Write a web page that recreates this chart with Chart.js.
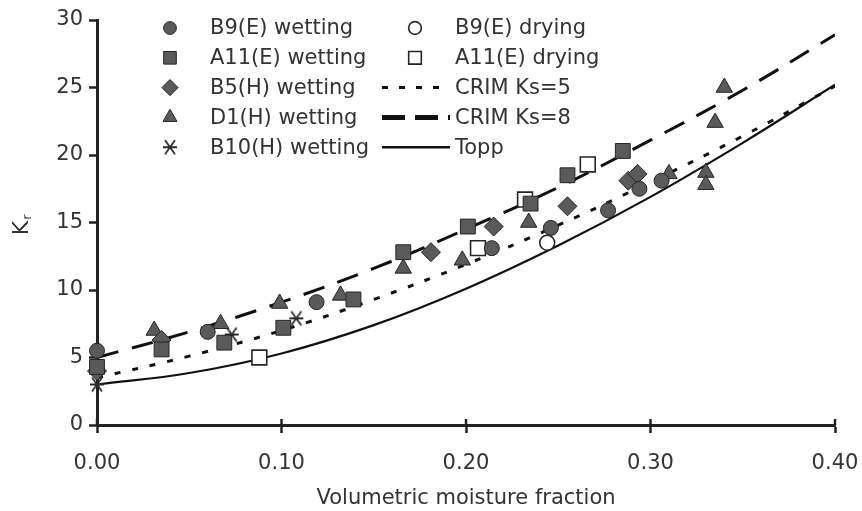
<!DOCTYPE html>
<html>
<head>
<meta charset="utf-8">
<script src="https://cdn.jsdelivr.net/npm/chart.js@4.4.1/dist/chart.umd.min.js"></script>
<style>
  html, body { margin: 0; padding: 0; background: #fff; }
  #chart { display: block; }
</style>
</head>
<body>
<canvas id="chart" width="862" height="511"></canvas>
<script>
const b9WetX = [0, 0.060, 0.119, 0.214, 0.246, 0.277, 0.294, 0.306];
const b9WetY = [5.5, 6.9, 9.1, 13.1, 14.6, 15.9, 17.5, 18.1];

const a11WetX = [0, 0.035, 0.069, 0.101, 0.139, 0.166, 0.201, 0.235, 0.255, 0.285];
const a11WetY = [4.3, 5.6, 6.1, 7.2, 9.3, 12.8, 14.7, 16.4, 18.5, 20.3];

const b5WetX = [0, 0.035, 0.181, 0.215, 0.255, 0.288, 0.293];
const b5WetY = [4.0, 6.3, 12.8, 14.7, 16.2, 18.1, 18.6];

const d1WetX = [0.031, 0.067, 0.099, 0.132, 0.166, 0.198, 0.234, 0.310, 0.330, 0.330, 0.335, 0.340];
const d1WetY = [7.0, 7.5, 9.0, 9.6, 11.6, 12.2, 15.0, 18.6, 18.7, 17.8, 22.4, 25.0];

const b10WetX = [0, 0.073, 0.108];
const b10WetY = [3.0, 6.7, 7.9];

const b9DryX = [0.244];
const b9DryY = [13.5];

const a11DryX = [0.088, 0.2065, 0.232, 0.266];
const a11DryY = [5.0, 13.1, 16.7, 19.3];

// model curves, read at 0.05 steps
const curveX = [0, 0.05, 0.10, 0.15, 0.20, 0.25, 0.30, 0.35, 0.40];
const crim5Y = [3.5, 5.1, 7.0, 9.3, 11.9, 14.8, 18.0, 21.4, 25.1];
const crim8Y = [5.0, 6.9, 9.1, 11.6, 14.5, 17.6, 21.1, 24.8, 28.9];
const toppY = [3.0, 3.85, 5.3, 7.4, 10.1, 13.3, 16.9, 20.9, 25.2];

const xTicks = [0, 0.1, 0.2, 0.3, 0.4];
const yTicks = [0, 5, 10, 15, 20, 25, 30];

const FONT = 'DejaVu Sans';
const GREY = '#5a5a5a';
const EDGE = '#262626';

const pts = (xs, ys) => xs.map((x, i) => ({ x, y: ys[i] }));

// six-armed asterisk used for B10
const asterisk = (() => {
  const c = document.createElement('canvas');
  c.width = 18;
  c.height = 18;
  const g = c.getContext('2d');
  g.strokeStyle = '#2a2a2a';
  g.lineWidth = 1.8;
  g.beginPath();
  g.moveTo(2, 9); g.lineTo(16, 9);
  g.moveTo(4, 2); g.lineTo(14, 16);
  g.moveTo(14, 2); g.lineTo(4, 16);
  g.stroke();
  return c;
})();

const marker = (label, data, style, radius, open) => ({
  type: 'scatter',
  label,
  data,
  pointStyle: style,
  pointRadius: radius,
  pointBackgroundColor: open ? '#fff' : GREY,
  pointBorderColor: EDGE,
  pointBorderWidth: open ? 1.6 : 1,
  showLine: false,
  clip: false,
});

const curve = (label, ys, dash, width) => ({
  type: 'line',
  label,
  data: pts(curveX, ys),
  borderColor: '#111',
  borderWidth: width,
  borderDash: dash,
  pointRadius: 0,
  tension: 0.4,
  fill: false,
});

const datasets = [
  marker('B9(E) wetting', pts(b9WetX, b9WetY), 'circle', 7.5, false),
  marker('A11(E) wetting', pts(a11WetX, a11WetY), 'rect', 10.5, false),
  marker('B5(H) wetting', pts(b5WetX, b5WetY), 'rectRot', 9.5, false),
  marker('D1(H) wetting', pts(d1WetX, d1WetY), 'triangle', 9.5, false),
  marker('B10(H) wetting', pts(b10WetX, b10WetY), asterisk, 9, false),
  marker('B9(E) drying', pts(b9DryX, b9DryY), 'circle', 7.5, true),
  marker('A11(E) drying', pts(a11DryX, a11DryY), 'rect', 10.5, true),
  curve('CRIM Ks=5', crim5Y, [6, 12], 3),
  curve('CRIM Ks=8', crim8Y, [22, 14], 3),
  curve('Topp', toppY, [], 2.2),
];

// two-column legend drawn on the canvas
const legendRows = [
  { col: 0, row: 0, ds: 0 }, { col: 0, row: 1, ds: 1 }, { col: 0, row: 2, ds: 2 },
  { col: 0, row: 3, ds: 3 }, { col: 0, row: 4, ds: 4 },
  { col: 1, row: 0, ds: 5 }, { col: 1, row: 1, ds: 6 },
  { col: 1, row: 2, ds: 7, dash: [6, 11], width: 3 },
  { col: 1, row: 3, ds: 8, dash: [23, 10], width: 5 },
  { col: 1, row: 4, ds: 9, dash: [], width: 2.5 },
];

const legendPlugin = {
  id: 'sideLegend',
  afterDraw(chart) {
    const ctx = chart.ctx;
    ctx.save();

    // x ticks also poke up through the axis line
    const xs = chart.scales.x;
    const base = chart.chartArea.bottom;
    ctx.strokeStyle = '#222';
    ctx.lineWidth = 2.5;
    xTicks.forEach((v) => {
      const px = xs.getPixelForValue(v);
      ctx.beginPath();
      ctx.moveTo(px, base);
      ctx.lineTo(px, base - 6);
      ctx.stroke();
    });

    ctx.font = `21px "${FONT}"`;
    ctx.fillStyle = '#333';
    ctx.textBaseline = 'middle';
    legendRows.forEach((item) => {
      const ds = chart.data.datasets[item.ds];
      const y = 28 + item.row * 29.8;
      const markX = item.col === 0 ? 170 : 415;
      const textX = item.col === 0 ? 210 : 455;
      if (ds.type === 'line') {
        ctx.save();
        ctx.strokeStyle = '#111';
        ctx.lineWidth = item.width;
        ctx.setLineDash(item.dash);
        ctx.beginPath();
        ctx.moveTo(382, y);
        ctx.lineTo(450, y);
        ctx.stroke();
        ctx.restore();
      } else {
        ctx.save();
        ctx.fillStyle = ds.pointBackgroundColor;
        ctx.strokeStyle = ds.pointBorderColor;
        ctx.lineWidth = ds.pointBorderWidth;
        Chart.helpers.drawPoint(ctx, {
          pointStyle: ds.pointStyle,
          radius: ds.pointRadius * 0.85,
          rotation: 0,
          borderWidth: ds.pointBorderWidth,
        }, markX, y);
        ctx.restore();
      }
      ctx.fillText(ds.label, textX, y + 1);
    });

    // y title: K with subscript r, rotated
    ctx.translate(22, 228);
    ctx.rotate(-Math.PI / 2);
    ctx.font = `22px "${FONT}"`;
    ctx.textAlign = 'center';
    ctx.fillText('K', 0, 0);
    ctx.font = `13px "${FONT}"`;
    ctx.fillText('r', 11, 6);
    ctx.restore();
  },
};

new Chart(document.getElementById('chart'), {
  data: { datasets },
  options: {
    responsive: false,
    animation: false,
    devicePixelRatio: 1,
    layout: { padding: { top: 20, right: 27, left: 0, bottom: 0 } },
    plugins: {
      legend: { display: false },
      tooltip: { enabled: false },
    },
    scales: {
      x: {
        type: 'linear',
        min: 0,
        max: 0.4,
        afterBuildTicks: (scale) => { scale.ticks = xTicks.map((value) => ({ value })); },
        afterFit: (scale) => {
          scale.height = 86;
          scale.paddingLeft = 0;
          scale.paddingRight = 0;
        },
        ticks: {
          callback: (value) => value.toFixed(2),
          font: { family: FONT, size: 21 },
          color: '#333',
          padding: 18,
          maxRotation: 0,
        },
        grid: { drawOnChartArea: false, tickLength: 8, tickColor: '#222', tickWidth: 2.5 },
        border: { color: '#222', width: 3 },
        title: {
          display: true,
          text: 'Volumetric moisture fraction',
          font: { family: FONT, size: 21 },
          color: '#333',
          padding: { top: 0, bottom: 0 },
        },
      },
      y: {
        type: 'linear',
        min: 0,
        max: 30,
        afterBuildTicks: (scale) => { scale.ticks = yTicks.map((value) => ({ value })); },
        afterFit: (scale) => {
          scale.width = 97;
          scale.paddingTop = 0;
          scale.paddingBottom = 0;
        },
        ticks: {
          font: { family: FONT, size: 21 },
          color: '#333',
          padding: 6,
        },
        grid: { drawOnChartArea: false, tickLength: 8, tickColor: '#222', tickWidth: 2.5 },
        border: { color: '#222', width: 3 },
      },
    },
  },
  plugins: [legendPlugin],
});
</script>
</body>
</html>
